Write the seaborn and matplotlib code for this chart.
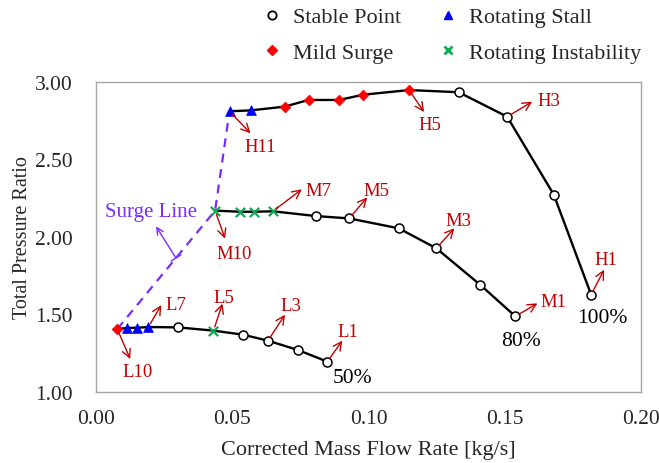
import matplotlib
matplotlib.use("Agg")
import matplotlib.pyplot as plt
import numpy as np
import pandas as pd
import seaborn as sns
from matplotlib.lines import Line2D

# ---------------- data ----------------
# 100% speed line, points H1..H11
h_flow = [0.1817, 0.1680, 0.1509, 0.1331, 0.1149, 0.0980, 0.0892, 0.0780, 0.0692, 0.0569, 0.0490]
h_pr = [1.628, 2.273, 2.776, 2.934, 2.948, 2.918, 2.884, 2.884, 2.841, 2.817, 2.811]
h_state = ["Stable Point"] * 4 + ["Mild Surge"] * 5 + ["Rotating Stall"] * 2

# 80% speed line, points M1..M10
m_flow = [0.1539, 0.1411, 0.1249, 0.1111, 0.0929, 0.0808, 0.0649, 0.0580, 0.0529, 0.0437]
m_pr = [1.488, 1.690, 1.927, 2.056, 2.120, 2.135, 2.166, 2.163, 2.163, 2.170]
m_state = ["Stable Point"] * 6 + ["Rotating Instability"] * 4

# 50% speed line, points L1..L10
l_flow = [0.0849, 0.0741, 0.0631, 0.0539, 0.0431, 0.0300, 0.0192, 0.0152, 0.0113, 0.0078]
l_pr = [1.196, 1.271, 1.331, 1.370, 1.396, 1.417, 1.419, 1.415, 1.413, 1.406]
l_state = (["Stable Point"] * 4 + ["Rotating Instability"] + ["Stable Point"]
           + ["Rotating Stall"] * 3 + ["Mild Surge"])

speed_labels = ["100%", "80%", "50%"]
states = ["Stable Point", "Mild Surge", "Rotating Stall", "Rotating Instability"]

x_ticks = [0.00, 0.05, 0.10, 0.15, 0.20]
y_ticks = [1.00, 1.50, 2.00, 2.50, 3.00]

# labelled points: (prefix, index(1-based), arrow tip offset px, text offset px)
annots = [
    ("H", 1, (13, 25), (15, 35)),
    ("H", 3, (25, 15), (42, 16)),
    ("H", 5, (15, -22), (21, -34)),
    ("H", 11, (21, -22), (31, -35)),
    ("M", 1, (22, 13), (38, 15)),
    ("M", 3, (18, 20), (22, 28)),
    ("M", 5, (18, 21), (27, 28)),
    ("M", 7, (29, 22), (46, 21)),
    ("M", 10, (10, -28), (19, -43)),
    ("L", 1, (15, 21), (21, 30)),
    ("L", 3, (17, 26), (23, 35)),
    ("L", 5, (9, 27), (10, 33)),
    ("L", 7, (13, 22), (28, 23)),
    ("L", 10, (13, -30), (20, -42)),
]

# ---------------- frame ----------------
frames = []
for name, fl, pr, st in [("100%", h_flow, h_pr, h_state),
                         ("80%", m_flow, m_pr, m_state),
                         ("50%", l_flow, l_pr, l_state)]:
    frames.append(pd.DataFrame({"flow": fl, "pr": pr, "state": st, "speed": name}))
df = pd.concat(frames, ignore_index=True)

surge = pd.DataFrame({"flow": [l_flow[-1], m_flow[-1], h_flow[-1]],
                      "pr": [l_pr[-1], m_pr[-1], h_pr[-1]]})

sns.set_theme(style="white")
plt.rcParams["font.family"] = ["Liberation Serif", "DejaVu Serif"]

fig = plt.figure(figsize=(6.59, 4.64), dpi=100)
ax = fig.add_axes([96 / 659, 1 - 393 / 464, (641 - 96) / 659, (393 - 83) / 464])

# speed lines
sns.lineplot(data=df, x="flow", y="pr", units="speed", estimator=None, sort=True,
             color="black", lw=1.7, ax=ax, legend=False, zorder=2)
# surge line
sns.lineplot(data=surge, x="flow", y="pr", sort=False, color="#7B2BFF", lw=1.6,
             ax=ax, legend=False, zorder=1, linestyle=(0, (4, 3)))

style = {
    "Stable Point": dict(marker="o", color="white", edgecolor="black", s=42, linewidth=1.1),
    "Mild Surge": dict(marker="D", color="#FF0000", edgecolor="#FF0000", s=30, linewidth=0.5),
    "Rotating Stall": dict(marker="^", color="#0000FF", edgecolor="#0000FF", s=50, linewidth=0.5),
    "Rotating Instability": dict(marker="x", color="#00B050", s=45, linewidth=1.6),
}
for st in states:
    sub = df[df["state"] == st]
    sns.scatterplot(data=sub, x="flow", y="pr", ax=ax, legend=False, zorder=3, **style[st])

ax.set_xlim(0, 0.2)
ax.set_ylim(1.0, 3.0)
ax.set_xticks(x_ticks)
ax.set_yticks(y_ticks)
ax.set_xticklabels([f"{v:.2f}" for v in x_ticks])
ax.set_yticklabels([f"{v:.2f}" for v in y_ticks])
ax.tick_params(direction="in", length=4, width=1, color="#A0A0A0", labelsize=15.5)
ax.tick_params(axis="y", pad=17)
ax.tick_params(axis="x", pad=12)
for sp in ax.spines.values():
    sp.set_color("#A6A6A6")
    sp.set_linewidth(1.0)
ax.set_xlabel("Corrected Mass Flow Rate [kg/s]", fontsize=16, labelpad=9)
ax.set_ylabel("Total Pressure Ratio", fontsize=14.5, labelpad=2)

# point annotations
red = "#C00000"
series = {"H": (h_flow, h_pr), "M": (m_flow, m_pr), "L": (l_flow, l_pr)}
k = 72 / 100  # px -> pt
for pre, idx, tip, txt in annots:
    fl, pr = series[pre]
    xy = (fl[idx - 1], pr[idx - 1])
    ax.annotate("", xy=xy, xytext=(tip[0] * k, tip[1] * k), textcoords="offset points",
                arrowprops=dict(arrowstyle="<-,head_length=0.5,head_width=0.25",
                                color=red, lw=1.0, shrinkA=0, shrinkB=3), zorder=4)
    ax.annotate(f"{pre}{idx}", xy=xy, xytext=(txt[0] * k, txt[1] * k),
                textcoords="offset points", ha="center", va="center",
                color=red, fontsize=13.5, zorder=5)

# speed labels
for lab, fl, pr, off in [("100%", h_flow, h_pr, (11, -23)),
                         ("80%", m_flow, m_pr, (6, -24)),
                         ("50%", l_flow, l_pr, (25, -16))]:
    ax.annotate(lab, xy=(fl[0], pr[0]), xytext=(off[0] * k, off[1] * k),
                textcoords="offset points", ha="center", va="center",
                color="black", fontsize=15.5)

# surge line label
t = 0.6
sx = l_flow[-1] + t * (m_flow[-1] - l_flow[-1])
sy = l_pr[-1] + t * (m_pr[-1] - l_pr[-1])
ax.annotate("", xy=(sx - 0.0073, sy + 0.204), xytext=(sx, sy),
            arrowprops=dict(arrowstyle="]->,widthA=0.35,lengthA=0",
                            color="#7B2BFF", lw=1.0, shrinkA=0, shrinkB=0))
ax.text(sx - 0.0092, sy + 0.30, "Surge Line", color="#7B2BFF", fontsize=15,
        ha="center", va="center")

# legend
handles = [
    Line2D([], [], ls="none", marker="o", mfc="white", mec="black", ms=6, mew=1.3, label="Stable Point"),
    Line2D([], [], ls="none", marker="D", mfc="#FF0000", mec="#FF0000", ms=5, label="Mild Surge"),
    Line2D([], [], ls="none", marker="^", mfc="#0000FF", mec="#0000FF", ms=6, label="Rotating Stall"),
    Line2D([], [], ls="none", marker="x", mec="#00B050", ms=5.5, mew=2, label="Rotating Instability"),
]
fig.legend(handles=handles, ncol=2, loc="center", bbox_to_anchor=(452 / 659, 1 - 36 / 464),
           frameon=False, handlelength=0.8, handletextpad=0.55, columnspacing=1.7,
           labelspacing=0.68, prop={"size": 16})

fig.savefig("out.png", dpi=100)
